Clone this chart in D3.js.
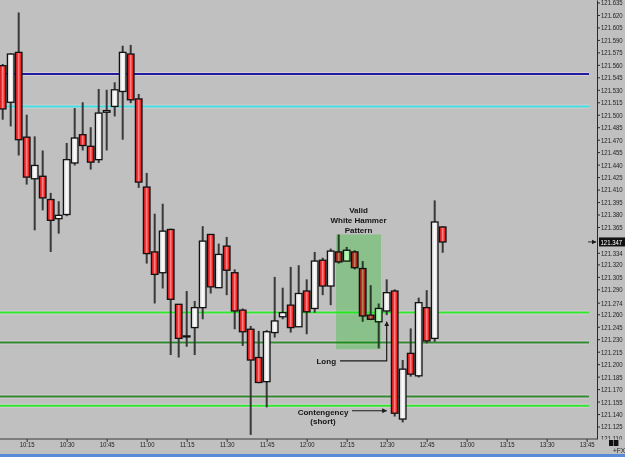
<!DOCTYPE html>
<html>
<head>
<meta charset="utf-8">
<script src="https://cdn.jsdelivr.net/npm/d3@7"></script>
<style>
  body { margin: 0; background: #c0c0c0; overflow: hidden; }
  svg { display: block; font-family: "Liberation Sans", Arial, sans-serif; }
</style>
</head>
<body>
<svg id="chart" width="625" height="457"></svg>
<script>
// 3 minute bars, USDJPY style quotes
var times = ["10:06","10:09","10:12","10:15","10:18","10:21","10:24","10:27","10:30","10:33",
             "10:36","10:39","10:42","10:45","10:48","10:51","10:54","10:57","11:00","11:03",
             "11:06","11:09","11:12","11:15","11:18","11:21","11:24","11:27","11:30","11:33",
             "11:36","11:39","11:42","11:45","11:48","11:51","11:54","11:57","12:00","12:03",
             "12:06","12:09","12:12","12:15","12:18","12:21","12:24","12:27","12:30","12:33",
             "12:36","12:39","12:42","12:45","12:48","12:51"];

var open  = [121.559,121.515,121.575,121.473,121.423,121.426,121.398,121.375,121.380,121.442,
             121.476,121.462,121.446,121.503,121.510,121.528,121.573,121.519,121.413,121.335,
             121.310,121.362,121.272,121.234,121.244,121.268,121.356,121.292,121.342,121.310,
             121.265,121.242,121.208,121.179,121.238,121.257,121.271,121.245,121.288,121.267,
             121.325,121.294,121.335,121.324,121.335,121.315,121.259,121.251,121.264,121.288,
             121.134,121.213,121.186,121.268,121.231,121.365];

var high  = [121.561,121.574,121.623,121.500,121.474,121.457,121.406,121.396,121.466,121.508,
             121.515,121.485,121.531,121.530,121.539,121.583,121.584,121.525,121.430,121.381,
             121.393,121.363,121.272,121.288,121.276,121.366,121.356,121.345,121.353,121.314,
             121.267,121.246,121.240,121.241,121.305,121.292,121.317,121.319,121.302,121.335,
             121.328,121.339,121.356,121.341,121.337,121.324,121.295,121.273,121.302,121.290,
             121.205,121.243,121.280,121.289,121.397,121.366];

var low   = [121.494,121.486,121.451,121.416,121.361,121.385,121.335,121.357,121.378,121.439,
             121.457,121.434,121.442,121.457,121.498,121.470,121.514,121.412,121.321,121.273,
             121.291,121.211,121.208,121.221,121.211,121.254,121.285,121.292,121.283,121.242,
             121.222,121.115,121.177,121.148,121.232,121.254,121.238,121.245,121.236,121.262,
             121.283,121.271,121.321,121.324,121.314,121.251,121.253,121.219,121.259,121.137,
             121.130,121.185,121.184,121.225,121.227,121.334];

var close = [121.507,121.573,121.470,121.425,121.439,121.400,121.373,121.379,121.446,121.472,
             121.463,121.443,121.502,121.505,121.530,121.575,121.518,121.419,121.333,121.308,
             121.360,121.278,121.231,121.234,121.268,121.348,121.293,121.332,121.313,121.264,
             121.239,121.205,121.178,121.239,121.252,121.262,121.244,121.285,121.263,121.324,
             121.294,121.336,121.323,121.337,121.316,121.258,121.254,121.267,121.286,121.141,
             121.194,121.188,121.274,121.228,121.371,121.347];

// horizontal levels drawn on the chart
var levelPrices = [121.549, 121.510, 121.262, 121.226, 121.161, 121.150];
var levelColors = ["#1e1e9c", "#3ee0e0", "#2ee82e", "#2f8a2f", "#2f8a2f", "#2ee82e"];

var yTicks = [121.635,121.620,121.605,121.590,121.575,121.560,121.545,121.530,121.515,121.500,
              121.485,121.470,121.455,121.440,121.425,121.410,121.395,121.380,121.365,121.334,
              121.320,121.305,121.290,121.274,121.260,121.245,121.230,121.215,121.200,121.185,
              121.170,121.155,121.140,121.125];
var yTickHidden = 121.110; // only its top shows above the time axis
var xTicks = ["10:15","10:30","10:45","11:00","11:15","11:30","11:45","12:00","12:15","12:30",
              "12:45","13:00","13:15","13:30","13:45"];

// pattern box and arrows
var boxTimes = ["12:11:00", "12:27:52"];
var boxPrices = [121.356, 121.218];
var longArrow = {from: "12:12:30", to: "12:30:00", price: 121.204, tip: 121.251};
var shortArrow = {from: "12:17:00", to: "12:30:00", price: 121.144};

var svg = d3.select("svg#chart"),
    width = +svg.attr("width"),
    height = +svg.attr("height");

var parseTime = d3.timeParse("%H:%M"),
    parseSec = d3.timeParse("%H:%M:%S");

var x = d3.scaleTime()
    .domain([parseTime("10:06"), parseTime("13:45")])
    .range([2.7, 586.7]);

var y = d3.scaleLinear()
    .domain([121.110, 121.638])
    .range([439, 0]);

var squeeze = 0.8; // the platform font is narrow

var candles = times.map(function(t, i) {
  return {time: parseTime(t), open: open[i], high: high[i], low: low[i], close: close[i]};
});

svg.append("rect")
    .attr("width", width)
    .attr("height", height)
    .attr("fill", "#c0c0c0");

//gradients for the candle bodies
var defs = svg.append("defs");
var redGrad = defs.append("linearGradient").attr("id", "redGrad");
[[0, "#d81010"], [0.3, "#f03030"], [0.5, "#ff9090"], [0.7, "#f03030"], [1, "#d81010"]].forEach(function(s) {
  redGrad.append("stop").attr("offset", s[0]).attr("stop-color", s[1]);
});
var whiteGrad = defs.append("linearGradient").attr("id", "whiteGrad");
[[0, "#cccccc"], [0.5, "#ffffff"], [1, "#d2d2d2"]].forEach(function(s) {
  whiteGrad.append("stop").attr("offset", s[0]).attr("stop-color", s[1]);
});
defs.append("clipPath").attr("id", "axisclip")
  .append("rect").attr("x", 597).attr("y", 0).attr("width", 28).attr("height", 439.5);

var arrowHead = function(id, orient) {
  defs.append("marker")
      .attr("id", id)
      .attr("viewBox", "0 0 10 10")
      .attr("refX", 9).attr("refY", 5)
      .attr("markerWidth", 5).attr("markerHeight", 5)
      .attr("markerUnits", "userSpaceOnUse")
      .attr("orient", orient)
    .append("path")
      .attr("d", "M0,0L10,5L0,10Z")
      .attr("fill", "#1a1a1a");
};
arrowHead("arrow", "auto");

//level lines
var levels = svg.append("g").attr("class", "levels")
    .selectAll("g")
    .data(levelPrices)
    .enter().append("g");
levels.append("line")
    .attr("x1", 0).attr("x2", 589)
    .attr("y1", function(d) { return y(d); })
    .attr("y2", function(d) { return y(d); })
    .attr("stroke", "#d8ccd5")
    .attr("stroke-width", 4);
levels.append("line")
    .attr("x1", 0).attr("x2", 589)
    .attr("y1", function(d) { return y(d); })
    .attr("y2", function(d) { return y(d); })
    .attr("stroke", function(d, i) { return levelColors[i]; })
    .attr("stroke-width", 2);

//candles
var candle = svg.append("g").attr("class", "candles")
    .selectAll("g")
    .data(candles)
    .enter().append("g");

candle.append("line")
    .attr("x1", function(d) { return x(d.time); })
    .attr("x2", function(d) { return x(d.time); })
    .attr("y1", function(d) { return y(d.high); })
    .attr("y2", function(d) { return y(d.low); })
    .attr("stroke", "#383838")
    .attr("stroke-width", 2);

candle.append("rect")
    .attr("x", function(d) { return x(d.time) - 3.3; })
    .attr("width", 6.6)
    .attr("y", function(d) { return y(Math.max(d.open, d.close)); })
    .attr("height", function(d) { return Math.max(1, Math.abs(y(d.open) - y(d.close))); })
    .attr("fill", function(d) { return d.close < d.open ? "url(#redGrad)" : "url(#whiteGrad)"; })
    .attr("stroke", "#121212")
    .attr("stroke-width", 1.3);

//pattern box
svg.append("rect")
    .attr("x", x(parseSec(boxTimes[0])))
    .attr("width", x(parseSec(boxTimes[1])) - x(parseSec(boxTimes[0])))
    .attr("y", y(boxPrices[0]))
    .attr("height", y(boxPrices[1]) - y(boxPrices[0]))
    .attr("fill", "#b8ffb8")
    .style("mix-blend-mode", "multiply");

//annotations
var notes = svg.append("g")
    .attr("font-size", 8)
    .attr("font-weight", "bold")
    .attr("fill", "#141414");

var boxMid = (x(parseSec(boxTimes[0])) + x(parseSec(boxTimes[1]))) / 2;
notes.selectAll("text.title")
    .data(["Valid", "White Hammer", "Pattern"])
    .enter().append("text")
    .attr("class", "title")
    .attr("text-anchor", "middle")
    .attr("x", boxMid)
    .attr("y", function(d, i) { return y(boxPrices[0]) - 21.3 + i * 9.9; })
    .text(function(d) { return d; });

var lx0 = x(parseSec(longArrow.from)), lx1 = x(parseSec(longArrow.to)), ly = y(longArrow.price);
svg.append("path")
    .attr("d", "M" + lx0 + "," + ly + "H" + lx1 + "V" + y(longArrow.tip))
    .attr("fill", "none")
    .attr("stroke", "#1a1a1a")
    .attr("stroke-width", 1.2)
    .attr("marker-end", "url(#arrow)");
notes.append("text")
    .attr("text-anchor", "end")
    .attr("x", lx0 - 4)
    .attr("y", ly + 3)
    .text("Long");

var sx0 = x(parseSec(shortArrow.from)), sx1 = x(parseSec(shortArrow.to)), sy = y(shortArrow.price);
svg.append("line")
    .attr("x1", sx0).attr("x2", sx1)
    .attr("y1", sy).attr("y2", sy)
    .attr("stroke", "#1a1a1a")
    .attr("stroke-width", 1.2)
    .attr("marker-end", "url(#arrow)");
notes.selectAll("text.short")
    .data(["Contengency", "(short)"])
    .enter().append("text")
    .attr("class", "short")
    .attr("text-anchor", "middle")
    .attr("x", sx0 - 29)
    .attr("y", function(d, i) { return sy + 4 + i * 9.5; })
    .text(function(d) { return d; });

//y axis on the right
var yAxis = d3.axisRight(y)
    .tickValues(yTicks)
    .tickSize(3)
    .tickSizeOuter(0)
    .tickPadding(1)
    .tickFormat(d3.format(".3f"));

var gy = svg.append("g")
    .attr("class", "y axis")
    .attr("transform", "translate(597,0)")
    .call(yAxis);
gy.attr("font-size", 7.5)
  .attr("font-family", null)
  .style("color", "#2a2a2a");
gy.selectAll("text")
    .attr("x", 4 / squeeze)
    .attr("transform", "scale(" + squeeze + ",1)")
    .attr("fill", "#1e1e1e");

// the partly hidden bottom label
svg.append("g")
    .attr("clip-path", "url(#axisclip)")
  .append("text")
    .attr("transform", "translate(601," + y(yTickHidden) + ") scale(" + squeeze + ",1)")
    .attr("dy", "0.32em")
    .attr("font-size", 7.5)
    .attr("fill", "#1e1e1e")
    .text(d3.format(".3f")(yTickHidden));

//x axis
var xAxis = d3.axisBottom(x)
    .tickValues(xTicks.map(parseTime))
    .tickSize(3)
    .tickPadding(0)
    .tickFormat(d3.timeFormat("%H:%M"));

var gx = svg.append("g")
    .attr("class", "x axis")
    .attr("transform", "translate(0,439)")
    .call(xAxis);
gx.select(".domain").remove();
gx.attr("font-size", 7.5)
  .attr("font-family", null)
  .style("color", "#2a2a2a");
gx.selectAll("text")
    .attr("transform", "scale(" + squeeze + ",1)")
    .attr("fill", "#1e1e1e");

svg.append("line")
    .attr("x1", 0).attr("x2", 597)
    .attr("y1", 439).attr("y2", 439)
    .attr("stroke", "#3a3a3a")
    .attr("stroke-width", 1);

//current price marker
var last = close[close.length - 1];
var marker = svg.append("g")
    .attr("transform", "translate(0," + y(last) + ")");
marker.append("line")
    .attr("x1", 588).attr("x2", 596)
    .attr("y1", 0).attr("y2", 0)
    .attr("stroke", "#333")
    .attr("stroke-width", 1)
    .attr("marker-end", "url(#arrow)");
marker.append("rect")
    .attr("x", 599).attr("y", -4.5)
    .attr("width", 26).attr("height", 9)
    .attr("fill", "#101010");
marker.append("text")
    .attr("transform", "translate(600.5,0) scale(" + squeeze + ",1)")
    .attr("dy", "0.34em")
    .attr("font-size", 7.5)
    .attr("fill", "#ffffff")
    .text(d3.format(".3f")(last));

//corner bits
svg.append("rect").attr("x", 609).attr("y", 440).attr("width", 4.4).attr("height", 6).attr("fill", "#111");
svg.append("rect").attr("x", 614).attr("y", 440).attr("width", 4.4).attr("height", 6).attr("fill", "#111");
svg.append("text")
    .attr("x", 613).attr("y", 452.5)
    .attr("font-size", 6.5)
    .attr("fill", "#222")
    .text("+FX");

svg.append("rect")
    .attr("x", 0).attr("y", 454)
    .attr("width", width).attr("height", 3)
    .attr("fill", "#5a8ad6");
</script>
</body>
</html>
